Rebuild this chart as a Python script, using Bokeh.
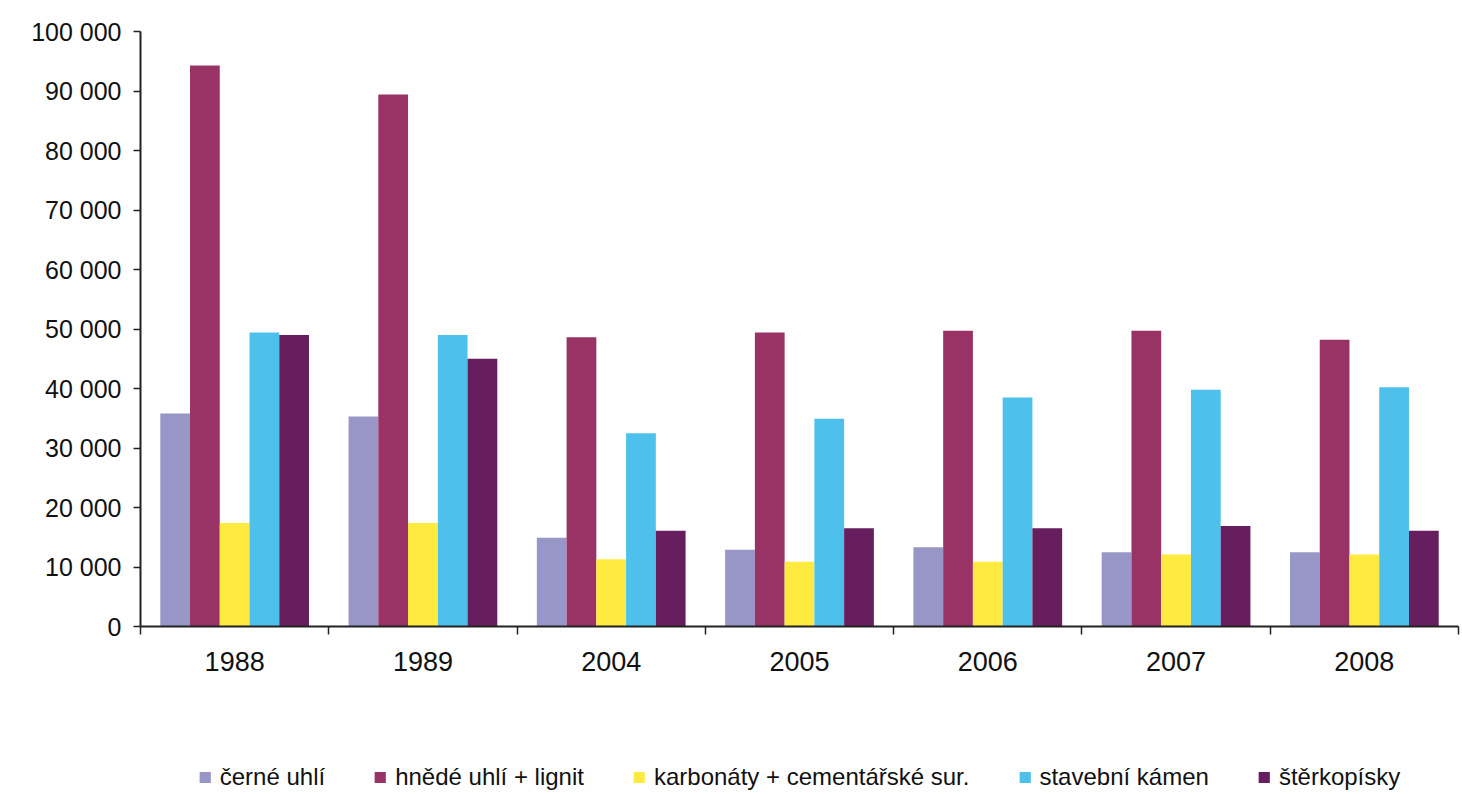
from bokeh.plotting import figure
from bokeh.layouts import column
from bokeh.models import ColumnDataSource, FixedTicker, Legend, LegendItem, Range1d
from bokeh.transform import dodge
from bokeh.embed import file_html
from bokeh.resources import INLINE

years = ["1988", "1989", "2004", "2005", "2006", "2007", "2008"]
cerne_uhli = [35800, 35300, 14900, 12900, 13300, 12500, 12500]
hnede_uhli = [94300, 89400, 48600, 49400, 49700, 49700, 48200]
karbonaty = [17400, 17400, 11300, 10900, 10900, 12100, 12100]
stavebni_kamen = [49400, 49000, 32500, 34900, 38500, 39800, 40200]
sterkopisky = [49000, 45000, 16100, 16500, 16500, 16900, 16100]

series_names = ["černé uhlí", "hnědé uhlí + lignit", "karbonáty + cementářské sur.",
                "stavební kámen", "štěrkopísky"]
series_values = [cerne_uhli, hnede_uhli, karbonaty, stavebni_kamen, sterkopisky]
colors = ["#9896C6", "#993366", "#FFEB3F", "#4DC1EB", "#661E5F"]

y_ticks = list(range(0, 100001, 10000))

pos = [i + 0.5 for i in range(len(years))]
data = {"pos": pos}
keys = ["s0", "s1", "s2", "s3", "s4"]
for k, vals in zip(keys, series_values):
    data[k] = vals
source = ColumnDataSource(data)

p = figure(width=1462, height=760, output_backend="svg", toolbar_location=None,
           x_range=Range1d(0, len(years)), y_range=Range1d(0, 100000),
           min_border_left=140, min_border_right=4, min_border_top=31,
           min_border_bottom=134)
p.outline_line_color = None
p.grid.visible = False
p.background_fill_color = "white"
p.border_fill_color = "white"

bw = 0.158
offsets = [-2 * bw, -bw, 0, bw, 2 * bw]
for k, off, c in zip(keys, offsets, colors):
    p.vbar(x=dodge("pos", off, range=p.x_range), top=k, width=bw, bottom=0,
           source=source, fill_color=c, line_color=None)

# x axis
p.xaxis.ticker = FixedTicker(ticks=pos, minor_ticks=list(range(len(years) + 1)))
p.xaxis.major_label_overrides = {pp: y for pp, y in zip(pos, years)}
p.xaxis.major_tick_line_color = None
p.xaxis.major_tick_out = 0
p.xaxis.major_tick_in = 0
p.xaxis.minor_tick_out = 8
p.xaxis.minor_tick_in = 0
p.xaxis.minor_tick_line_color = "#222222"
p.xaxis.minor_tick_line_width = 1.5
p.xaxis.axis_line_color = "#222222"
p.xaxis.axis_line_width = 2
p.xaxis.major_label_text_font = "Liberation Sans"
p.xaxis.major_label_text_font_size = "27px"
p.xaxis.major_label_text_color = "#111111"
p.xaxis.major_label_standoff = 17

# y axis
p.yaxis.ticker = FixedTicker(ticks=y_ticks, minor_ticks=[])
p.yaxis.major_label_overrides = {t: f"{t:,}".replace(",", " ") for t in y_ticks}
p.yaxis.major_tick_out = 7
p.yaxis.major_tick_in = 0
p.yaxis.major_tick_line_color = "#222222"
p.yaxis.major_tick_line_width = 1.5
p.yaxis.minor_tick_line_color = None
p.yaxis.axis_line_color = "#222222"
p.yaxis.axis_line_width = 2
p.yaxis.major_label_text_font = "Liberation Sans"
p.yaxis.major_label_text_font_size = "25px"
p.yaxis.major_label_text_color = "#111111"
p.yaxis.major_label_standoff = 12

# legend strip below the chart (swatch renderers sit outside its visible range)
lg = figure(width=1462, height=34, output_backend="svg", toolbar_location=None,
            x_range=Range1d(0, 1), y_range=Range1d(0, 1),
            min_border=0, min_border_left=0, min_border_right=0,
            min_border_top=0, min_border_bottom=0)
lg.axis.visible = False
lg.grid.visible = False
lg.outline_line_color = None
lg.border_fill_color = "white"
lg.background_fill_color = "white"
swatches = []
for c in colors:
    swatches.append(lg.vbar(x=[-10], top=[-10], bottom=[-11], width=0.1,
                            fill_color=c, line_color=None))

legend = Legend(items=[LegendItem(label=n, renderers=[r]) for n, r in zip(series_names, swatches)],
                orientation="horizontal", location="center",
                label_text_font="Liberation Sans", label_text_font_size="24px",
                label_text_color="#111111", glyph_width=14, glyph_height=14,
                label_standoff=8, spacing=48, padding=0, margin=0,
                border_line_color=None, background_fill_alpha=0)
lg.add_layout(legend, "center")

layout = column(p, lg, spacing=0)
open("out.html", "w").write(file_html(layout, INLINE))
